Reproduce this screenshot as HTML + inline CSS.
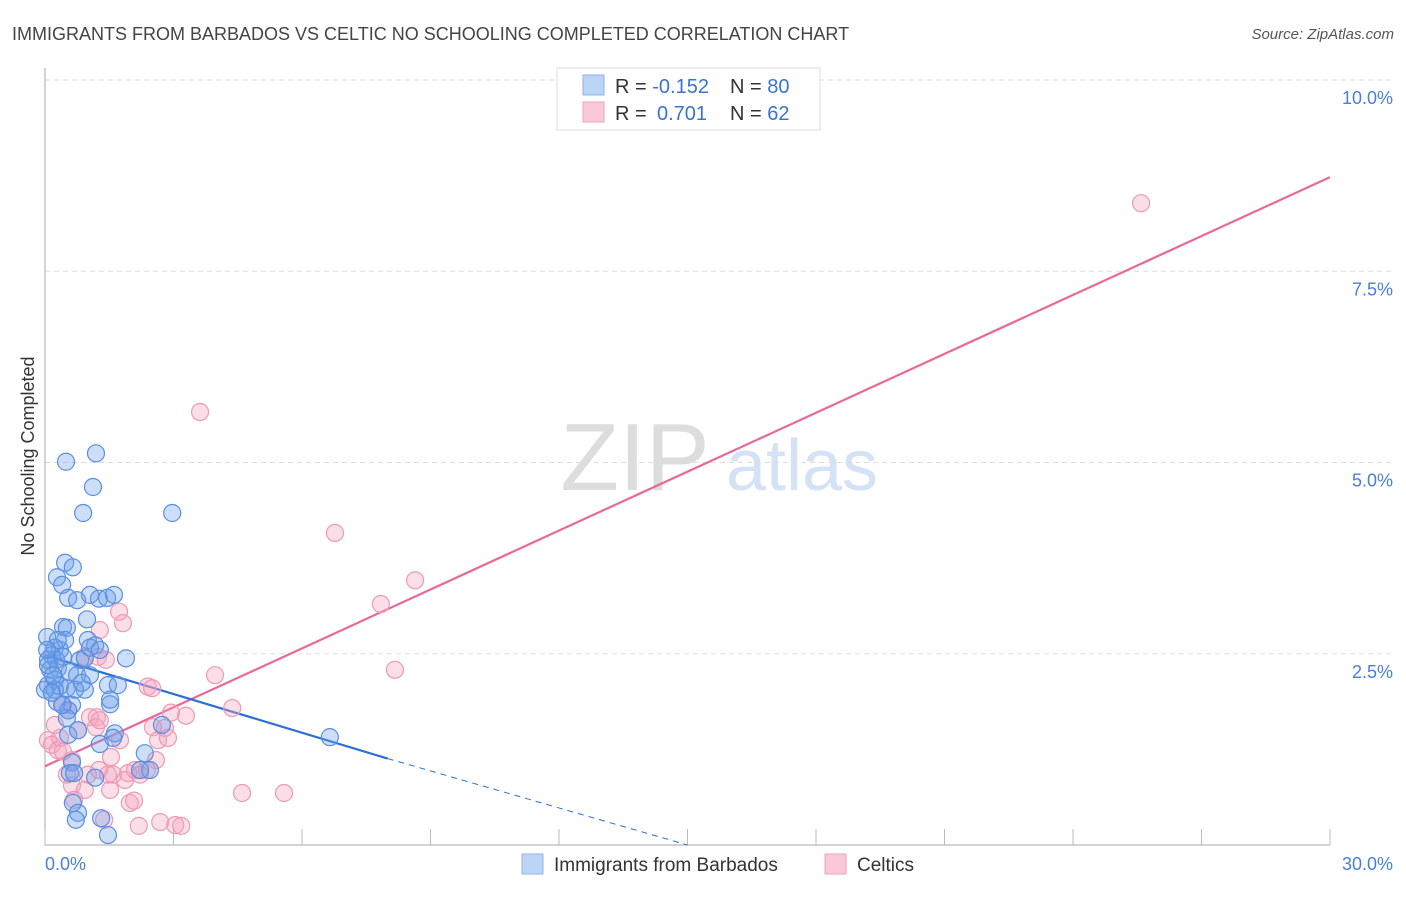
<!DOCTYPE html>
<html><head><meta charset="utf-8"><style>
body{margin:0;background:#fff;font-family:"Liberation Sans",sans-serif;}
svg text{font-family:"Liberation Sans",sans-serif;}
</style></head><body>
<svg id="chart" width="1406" height="892" xmlns="http://www.w3.org/2000/svg">
<text x="12" y="40" font-size="18" fill="#444">IMMIGRANTS FROM BARBADOS VS CELTIC NO SCHOOLING COMPLETED CORRELATION CHART</text>
<text x="1394" y="39" font-size="15" fill="#555" font-style="italic" text-anchor="end">Source: ZipAtlas.com</text>
<text transform="translate(34,456) rotate(-90)" font-size="18" fill="#333" text-anchor="middle">No Schooling Completed</text>
<g><text x="635" y="490" font-size="96" fill="#ddd" font-family="Liberation Serif" text-anchor="middle">ZIP</text><text x="802" y="490" font-size="72" fill="#d5e2f5" text-anchor="middle">atlas</text></g>
<g id="grid"></g>
<g id="axes"></g>
<g id="lines"></g>
<g id="points"></g>
<g>
<rect x="557" y="68" width="263" height="62" fill="#fff" stroke="#ddd"/>
<rect x="583" y="75" width="21" height="20" fill="#bcd4f5" stroke="#8fb3ea"/>
<rect x="583" y="102" width="21" height="20" fill="#f9c9d7" stroke="#eea3bb"/>
<text x="615" y="93" font-size="20" fill="#333">R = <tspan fill="#3a74d0">-0.152</tspan></text>
<text x="730" y="93" font-size="20" fill="#333">N = <tspan fill="#3a74d0">80</tspan></text>
<text x="615" y="120" font-size="20" fill="#333">R = <tspan fill="#3a74d0" x="657">0.701</tspan></text>
<text x="730" y="120" font-size="20" fill="#333">N = <tspan fill="#3a74d0">62</tspan></text>
</g>
<g>
<rect x="522" y="854" width="21" height="20" fill="#bcd4f5" stroke="#8fb3ea"/>
<text x="554" y="871" font-size="19" fill="#333">Immigrants from Barbados</text>
<rect x="825" y="854" width="21" height="20" fill="#f9c9d7" stroke="#eea3bb"/>
<text x="857" y="871" font-size="19" fill="#333">Celtics</text>
</g>
</svg>
<script>
const blueX=[.49,1.19,1.12,.89,2.97,.47,.65,.28,.40,.54,.75,1.05,1.26,1.45,1.61,.98,.42,.51,.05,.47,1.00,1.17,.23,.35,.16,.07,.26,.42,.82,.93,1.89,.12,.30,.58,.75,1.05,.07,.23,.35,.51,.93,1.47,1.70,0,.28,1.52,.63,.54,.51,1.63,1.59,1.28,2.33,2.73,6.65,2.45,2.22,.63,.58,.68,1.17,.65,.77,.72,1.31,1.47,.23,.40,.16,.07,.54,.77,.86,1.05,.30,.05,.19,.70,1.28,1.52];
const blueY=[5.01,5.12,4.68,4.34,4.34,3.69,3.63,3.50,3.40,3.23,3.20,3.27,3.22,3.23,3.27,2.95,2.85,2.84,2.72,2.68,2.68,2.61,2.58,2.55,2.48,2.42,2.42,2.46,2.42,2.44,2.44,2.29,2.31,2.26,2.22,2.22,2.09,2.16,2.08,2.05,2.03,2.09,2.09,2.03,1.87,1.84,1.83,1.76,1.66,1.46,1.40,1.32,1.20,1.57,1.41,.98,.98,1.08,.94,.94,.88,.55,.42,.33,.35,.13,2.03,1.83,1.99,2.35,1.44,1.50,2.12,2.58,2.68,2.55,2.22,2.03,2.55,1.90];
const pinkX=[25.59,3.62,6.77,8.64,7.84,8.17,1.73,1.82,3.97,4.37,2.40,.93,1.24,1.42,1.28,.23,.07,.16,.30,.35,.42,.54,.63,.77,1.05,1.21,1.19,1.28,1.54,1.94,1.59,1.26,1.00,.63,.93,1.52,1.87,2.10,2.22,2.59,2.52,2.64,2.87,2.94,3.29,2.50,1.98,2.08,2.19,2.69,3.04,3.18,4.60,5.58,1.38,.51,.42,.68,1.47,2.38,1.75,2.80];
const pinkY=[8.39,5.66,4.08,3.46,3.15,2.29,3.05,2.90,2.22,1.79,2.07,2.46,2.46,2.42,2.81,1.57,1.37,1.31,1.24,1.40,1.83,1.76,1.11,1.50,1.67,1.67,1.54,1.63,1.15,.94,.92,.98,.92,.78,.72,.72,.85,.98,.92,1.11,1.54,1.37,1.40,1.73,1.69,2.05,.55,.58,.25,.30,.26,.25,.68,.68,.33,.92,1.22,.59,.92,.98,1.37,1.53];
const yTicks=[2.5,5.0,7.5,10.0];
const yTickLabels=["2.5%","5.0%","7.5%","10.0%"];
const xTicks=[0,3,6,9,12,15,18,21,24,27,30];
const pinkTrend=[1.03,8.73]; // y at x=0, x=30
const blueTrend=[2.48,1.13,8.0,15.0]; // y0, y at solidEnd, solidEnd, dashEnd
const sx=v=>45+v*(1285/30);
const sy=v=>845-v*76.5;
const NS="http://www.w3.org/2000/svg";
function mk(tag,attrs,parent){const e=document.createElementNS(NS,tag);for(const k in attrs)e.setAttribute(k,attrs[k]);parent.appendChild(e);return e;}
const grid=document.getElementById('grid'),axes=document.getElementById('axes'),lines=document.getElementById('lines'),pts=document.getElementById('points');
yTicks.forEach((t,i)=>{
  const l=mk('line',{x1:45,x2:1394,y1:sy(t),y2:sy(t),stroke:'#ddd','stroke-dasharray':'5,4'},grid);
  
  
  const tx=mk('text',{x:1393,y:sy(t)+24,'font-size':18,fill:'#4a7fd6','text-anchor':'end'},axes);
  tx.textContent=yTickLabels[i];
  
  
});
const ax=mk('path',{d:'M45 68 V845 H1330',stroke:'#aaa',fill:'none'},axes);


xTicks.forEach(t=>{
  const l=mk('line',{x1:sx(t),x2:sx(t),y1:829,y2:845,stroke:'#bbb'},axes);
  
  
});
let t0=mk('text',{x:45,y:870,'font-size':18,fill:'#4a7fd6'},axes);t0.textContent='0.0%';


let t1=mk('text',{x:1393,y:870,'font-size':18,fill:'#4a7fd6','text-anchor':'end'},axes);t1.textContent='30.0%';


function dot(x,y,fill,stroke,name){
  const c=mk('circle',{cx:sx(x),cy:sy(y),r:8.5,fill:fill,stroke:stroke,'stroke-width':1.2},pts);
  
  
}
pinkX.forEach((x,i)=>dot(x,pinkY[i],'rgba(245,160,190,0.35)','#eb9ab5','point-celtics'));
blueX.forEach((x,i)=>dot(x,blueY[i],'rgba(110,160,235,0.35)','#5b8fe0','point-barbados'));
const pl=mk('line',{x1:sx(0),y1:sy(pinkTrend[0]),x2:sx(30),y2:sy(pinkTrend[1]),stroke:'#e8689a','stroke-width':2.2},lines);


const slope=(blueTrend[1]-blueTrend[0])/blueTrend[2];
const bl=mk('line',{x1:sx(0),y1:sy(blueTrend[0]),x2:sx(blueTrend[2]),y2:sy(blueTrend[1]),stroke:'#2a6fd6','stroke-width':2.2},lines);


const bd=mk('line',{x1:sx(blueTrend[2]),y1:sy(blueTrend[1]),x2:sx(blueTrend[3]),y2:sy(Math.max(0,blueTrend[0]+slope*blueTrend[3])),stroke:'#2a6fd6','stroke-width':1,'stroke-dasharray':'6,5'},lines);


</script>
</body></html>
